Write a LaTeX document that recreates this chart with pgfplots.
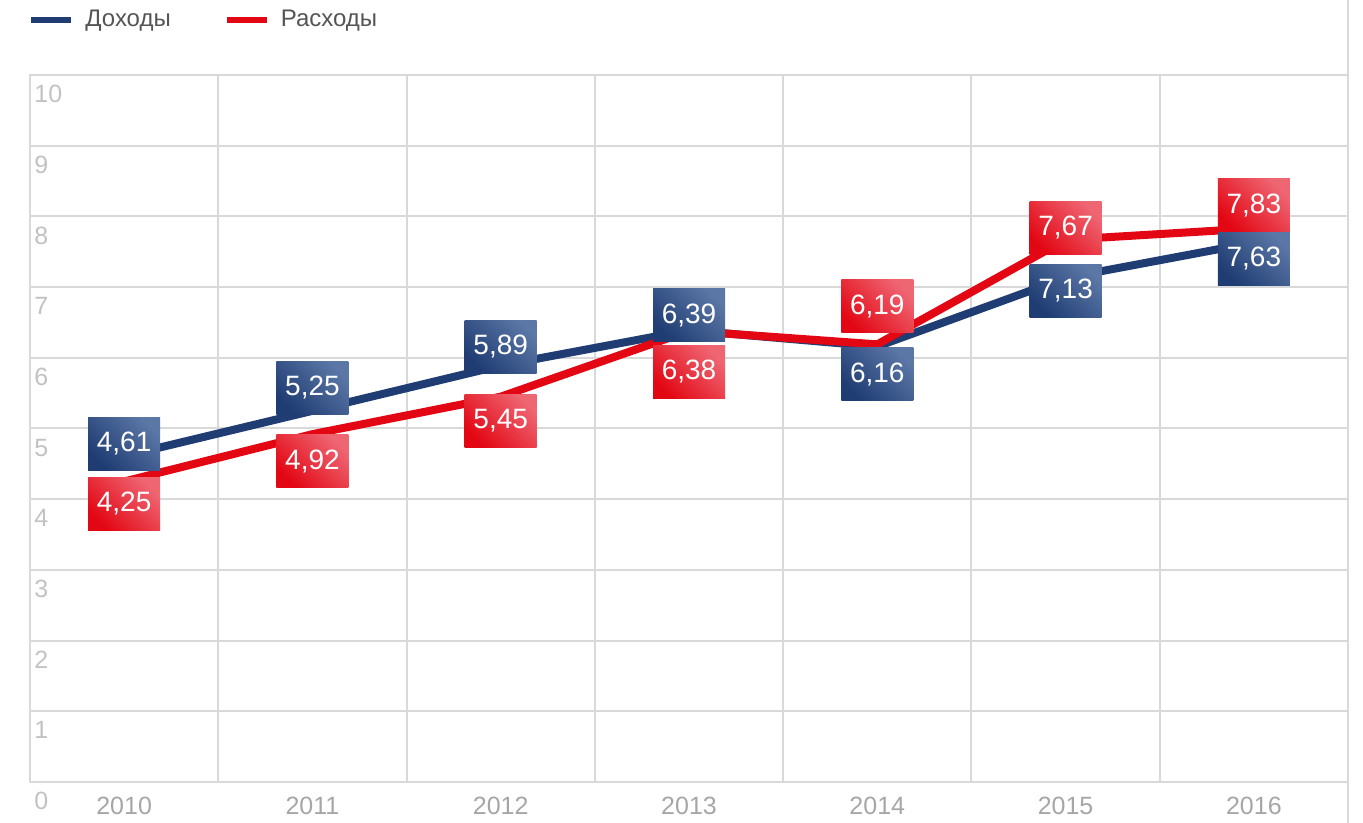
\documentclass[border=0pt]{standalone}
\usepackage{fontspec}
\setmainfont{Liberation Sans}
\usepackage{pgfplots}
\usepackage{pgfplotstable}
\pgfplotsset{compat=1.18}

\definecolor{dohod}{HTML}{1F3C73}
\definecolor{dohodL}{HTML}{5B77A6}
\definecolor{rashod}{HTML}{E30613}
\definecolor{rashodL}{HTML}{EF6673}
\definecolor{gridc}{HTML}{D9D9D9}
\definecolor{ticky}{HTML}{C2C2C2}
\definecolor{tickx}{HTML}{A6A6A6}
\definecolor{legtext}{HTML}{555555}

% x = year index (0 = 2010), y = value, off = label shift in pt
\pgfplotstableread{
x y off
0 4.61 6.25
1 5.25 11.5
2 5.89 9.5
3 6.39 7.5
4 6.16 -14
5 7.13 -6.5
6 7.63 -8
}\dohody
\pgfplotstableread{
x y off
0 4.25 -11
1 4.92 -13.5
2 5.45 -12
3 6.38 -20.5
4 6.19 19
5 7.67 6
6 7.83 11.5
}\rashody

\pgfplotsset{
  vlabel/.style={
    draw=none, forget plot,
    visualization depends on={\thisrow{off} \as \labeloff},
    nodes near coords={\pgfmathprintnumber[fixed,precision=2,fixed zerofill,use comma]{\pgfplotspointmeta}},
    every node near coord/.append style={
      anchor=center, yshift=\labeloff pt, inner sep=0pt,
      minimum width=36pt, minimum height=26.5pt,
      text=white, font=\fontsize{14}{16}\selectfont},
  },
}

\begin{document}
\begin{tikzpicture}
\begin{axis}[
  name=ax,
  scale only axis, width=659pt, height=353.5pt,
  xmin=-0.5, xmax=6.5, ymin=0, ymax=10,
  xtick={0,1,2,3,4,5,6},
  xticklabels={2010,2011,2012,2013,2014,2015,2016},
  minor xtick={-0.5,0.5,1.5,2.5,3.5,4.5,5.5,6.5},
  ytick={0,1,2,3,4,5,6,7,8,9,10},
  major tick length=0pt, minor tick length=0pt,
  ymajorgrids=true, xminorgrids=true,
  grid style={draw=gridc, line width=1pt},
  axis line style={draw=gridc, line width=1pt},
  /pgf/number format/assume math mode=true,
  xticklabel style={font=\fontsize{12.5}{14}\selectfont, text=tickx, anchor=north, yshift=-4pt},
  yticklabel style={font=\fontsize{12.5}{14}\selectfont, text=ticky, anchor=north west, inner sep=0pt, xshift=2pt, yshift=-5pt},
  clip=false,
  legend columns=2,
  legend style={draw=none, fill=none, at={(axis description cs:0,1)}, anchor=west,
    yshift=27.5pt, xshift=-4pt,
    font=\fontsize{12}{14}\selectfont, text=legtext,
    /tikz/every odd column/.append style={column sep=3.5pt},
    /tikz/every even column/.append style={column sep=24.5pt}},
  legend image code/.code={\draw[#1, line width=3pt] (0pt,0pt) -- (20pt,0pt);},
]
\addplot[dohod, line width=4pt] table[x=x, y=y] {\dohody};
\addlegendentry{Доходы}
\addplot[rashod, line width=4pt] table[x=x, y=y] {\rashody};
\addlegendentry{Расходы}

\addplot[vlabel, every node near coord/.append style={top color=dohodL, bottom color=dohod, shading angle=-45}]
  table[x=x, y=y] {\dohody};
\addplot[vlabel, every node near coord/.append style={top color=rashodL, bottom color=rashod, shading angle=-45}]
  table[x=x, y=y] {\rashody};

\draw[gridc, line width=1pt] (rel axis cs:1,0) ++(0pt,-25pt) -- (rel axis cs:1,1) -- ++(0pt,40pt);
\end{axis}
\pgfresetboundingbox
\path[use as bounding box] ([shift={(-15pt,-20.5pt)}]ax.south west) rectangle ([shift={(7.5pt,37.5pt)}]ax.north east);
\end{tikzpicture}
\end{document}
